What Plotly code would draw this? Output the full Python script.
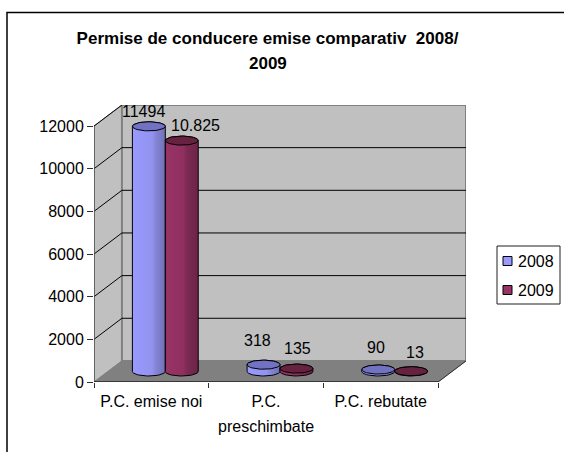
"""Permise de conducere: cilindri 3D falsi desenati pe axe 2D"""
import numpy as np
import plotly.graph_objects as go

# date
CATEGORIES = ['P.C. emise noi', 'P.C.<br>preschimbate', 'P.C. rebutate']
SERIES_NAMES = ['2008', '2009']
VALUES_2008 = [11494, 318, 90]
VALUES_2009 = [10825, 135, 13]
LABELS_2008 = ['11494', '318', '90']
LABELS_2009 = ['10.825', '135', '13']
Y_TICKS = [0, 2000, 4000, 6000, 8000, 10000, 12000]

FONT = 'Liberation Sans'
TXT = dict(family=FONT, size=16, color='black')
TITLE_FONT = dict(family=FONT, size=17, color='black')
W, H = 564, 452

# geometrie in pixeli
X0, Y0 = 94, 382          # coltul din fata
CAT_PX = 115              # latime categorie
Y_PX = 255 / 12000        # pixeli pe unitate
DX, DY = 28, 21           # adancime
CYL_W, CYL_RY = 33, 4.5

X_MAX = 3 + DX / CAT_PX
Y_MAX = 12000 + DY / Y_PX
dx_u, dy_u = DX / CAT_PX, DY / Y_PX

# stil pe serii
GRADIENTS = [
    [[0, '#9a9aff'], [0.6, '#9292f0'], [0.72, '#8484d6'], [1, '#7070b8']],
    [[0, '#993366'], [0.55, '#8f3060'], [0.65, '#7d2a54'], [1, '#6b2447']],
]
CAP_COLORS = ['#7272c2', '#66223f']
SWATCH_COLORS = ['#9999ff', '#993366']
LABEL_SHIFTS = [[(-5, 15), (-6, 24), (-2, 22)], [(14, 15), (1, 20), (4, 19)]]

fig = go.Figure()


def px_x(px):
    return (px - X0) / (W - 98 - X0)


def px_y(px):
    return (Y0 - px) / (Y0 - 105)


def poly_path(points):
    return 'M' + 'L'.join(f'{x},{y}' for x, y in points) + 'Z'


def add_poly(points, fill, line='#808080', width=1):
    fig.add_shape(type='path', path=poly_path(points), fillcolor=fill, line=dict(color=line, width=width), layer='below')


def add_cylinder(center, value, gradient, cap_color):
    """corp + capac, in coordonate de date"""
    rx = CYL_W / 2 / CAT_PX
    ry = CYL_RY / Y_PX
    base = dy_u / 2
    t = np.linspace(0, np.pi, 25)
    # jumatatea de jos a bazei, apoi jumatatea de sus a capacului
    xs = list(center - rx * np.cos(t)) + list(center + rx * np.cos(t))
    ys = list(base - ry * np.sin(t)) + list(base + value + ry * np.sin(t))
    fig.add_trace(go.Scatter(x=xs + xs[:1], y=ys + ys[:1], mode='lines', fill='toself',
                             fillgradient=dict(type='horizontal', colorscale=gradient),
                             line=dict(color='black', width=1), showlegend=False, hoverinfo='skip'))
    t2 = np.linspace(0, 2 * np.pi, 49)
    fig.add_trace(go.Scatter(x=center + rx * np.cos(t2), y=base + value + ry * np.sin(t2), mode='lines', fill='toself',
                             fillcolor=cap_color, line=dict(color='black', width=1), showlegend=False, hoverinfo='skip'))


# pereti si podea
add_poly([(0, 0), (dx_u, dy_u), (dx_u, Y_MAX), (0, 12000)], '#c0c0c0')
add_poly([(dx_u, dy_u), (X_MAX, dy_u), (X_MAX, Y_MAX), (dx_u, Y_MAX)], '#c0c0c0', width=2)
add_poly([(0, 0), (3, 0), (X_MAX, dy_u), (dx_u, dy_u)], '#808080')
for tick in Y_TICKS[1:]:
    fig.add_shape(type='line', x0=0, y0=tick, x1=dx_u, y1=tick + dy_u, line=dict(color='black', width=1), layer='below')
    if tick < 12000:
        fig.add_shape(type='line', x0=dx_u, y0=tick + dy_u, x1=X_MAX, y1=tick + dy_u, line=dict(color='black', width=1), layer='below')
fig.add_shape(type='line', x0=3, y0=0, x1=X_MAX, y1=dy_u, line=dict(color='#303030', width=1), layer='below')
fig.add_shape(type='line', x0=0, y0=0, x1=0, y1=12000, line=dict(color='#505050', width=1.5), layer='below')
fig.add_shape(type='line', x0=0, y0=0, x1=3, y1=0, line=dict(color='#202020', width=1.5), layer='below')

# cilindri si etichete
bar_half = CYL_W / 2 / CAT_PX
for s, (values, labels) in enumerate(zip([VALUES_2008, VALUES_2009], [LABELS_2008, LABELS_2009])):
    for i, value in enumerate(values):
        center = i + 0.5 + dx_u / 2 + (2 * s - 1) * bar_half
        add_cylinder(center, value, GRADIENTS[s], CAP_COLORS[s])
        xs, ys = LABEL_SHIFTS[s][i]
        fig.add_annotation(x=center, y=value + dy_u / 2, text=labels[i], showarrow=False, xshift=xs, yshift=ys, font=TXT)

# randul al doilea din eticheta de categorie, interliniat mai mare decat in plotly
tick_text = []
for i, cat in enumerate(CATEGORIES):
    lines = cat.split('<br>')
    tick_text.append(lines[0])
    if len(lines) > 1:
        fig.add_annotation(x=i + 0.5, y=0, yshift=-44, text=lines[1], showarrow=False, font=TXT)

# titlul, linia a doua
fig.add_annotation(xref='paper', yref='paper', x=px_x(267.5), y=px_y(63), yanchor='middle', text='<b>2009</b>', showarrow=False, font=TITLE_FONT)

# legenda (plotly nu coboara sub itemwidth=30, deci e desenata de mana)
fig.add_shape(type='rect', xref='paper', yref='paper', x0=px_x(497), x1=px_x(560), y0=px_y(246), y1=px_y(304),
              fillcolor='white', line=dict(color='#202020', width=1))
for s, name in enumerate(SERIES_NAMES):
    cy = 261 + 29 * s
    fig.add_shape(type='rect', xref='paper', yref='paper', x0=px_x(503), x1=px_x(512), y0=px_y(cy - 4.5), y1=px_y(cy + 4.5),
                  fillcolor=SWATCH_COLORS[s], line=dict(color='black', width=1))
    fig.add_annotation(xref='paper', yref='paper', x=px_x(518), y=px_y(cy), xanchor='left', yanchor='middle', text=name,
                       showarrow=False, xshift=-2, font=TXT)

# rama
fig.add_shape(type='path', xref='paper', yref='paper', line=dict(color='black', width=1.5),
              path=f'M{px_x(7)},{px_y(H + 5)}L{px_x(7)},{px_y(12.5)}L{px_x(W + 5)},{px_y(12.5)}')

fig.update_layout(
    width=W, height=H, autosize=False, showlegend=False,
    paper_bgcolor='white', plot_bgcolor='white',
    margin=dict(l=X0, r=W - 466, t=105, b=H - Y0, pad=0),
    title=dict(text='<b>Permise de conducere emise comparativ\u00a0 2008/</b>', x=267.5 / W, xanchor='center',
               y=1 - 38 / H, yanchor='middle', font=TITLE_FONT),
    xaxis=dict(range=[0, X_MAX], tickmode='array', tickvals=[0.5, 1.5, 2.5], ticktext=tick_text, ticks='',
               showgrid=False, zeroline=False, showline=False, tickfont=TXT, ticklabelstandoff=8,
               minor=dict(tickmode='array', tickvals=[0, 1, 2, 3], ticks='outside', ticklen=5, tickwidth=1, tickcolor='#303030', showgrid=False)),
    yaxis=dict(range=[0, Y_MAX], tickmode='array', tickvals=Y_TICKS, ticktext=[str(t) for t in Y_TICKS], ticks='outside', ticklen=6,
               tickwidth=1, tickcolor='#303030', showgrid=False, zeroline=False, showline=False, tickfont=TXT),
)

fig.write_html("out.html", post_script="document.body.style.margin='0';", config=dict(displayModeBar=False))
